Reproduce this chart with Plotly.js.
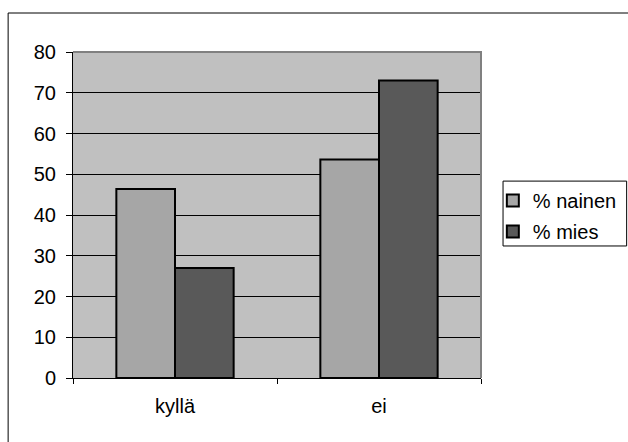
<!DOCTYPE html>
<html>
<head>
<meta charset="utf-8">
<script src="https://cdn.plot.ly/plotly-3.0.1.min.js"></script>
<style>
  html, body { margin: 0; padding: 0; background: #ffffff; }
  #chart { width: 628px; height: 442px; }
</style>
</head>
<body>
<div id="chart"></div>
<script>
// Vastaukset kategorioittain (prosentteina)
const categories = ['kyllä', 'ei'];
const naisetPct = [46.4, 53.6];
const miehetPct = [27.0, 73.0];
const seriesNames = ['% nainen', '% mies'];
const yTicks = [0, 10, 20, 30, 40, 50, 60, 70, 80];

const fontFamily = '"Liberation Sans", Arial, sans-serif';

const traces = [
  {
    type: 'bar',
    name: seriesNames[0],
    x: categories,
    y: naisetPct,
    legendgroup: 'a',
    marker: { color: '#a6a6a6', line: { color: '#000000', width: 2 } },
    hoverinfo: 'none'
  },
  {
    type: 'bar',
    name: seriesNames[1],
    x: categories,
    y: miehetPct,
    legendgroup: 'b',
    marker: { color: '#595959', line: { color: '#000000', width: 2 } },
    hoverinfo: 'none'
  }
];

const layout = {
  width: 628,
  height: 442,
  margin: { l: 73, r: 147, t: 52, b: 64, autoexpand: false },
  paper_bgcolor: '#ffffff',
  plot_bgcolor: '#c0c0c0',
  font: { family: fontFamily, size: 20, color: '#000000' },
  barmode: 'group',
  bargap: 0.425,
  bargroupgap: 0,
  showlegend: true,
  legend: {
    x: 1.029, y: 0.604, xanchor: 'left', yanchor: 'top',
    borderwidth: 0, bgcolor: 'rgba(0,0,0,0)',
    traceorder: 'grouped', tracegroupgap: 2, itemwidth: 30,
    font: { family: fontFamily, size: 20, color: '#000000' }
  },
  xaxis: {
    type: 'category',
    showgrid: false,
    showline: true, linecolor: '#000000', linewidth: 1,
    ticks: 'outside', tickson: 'boundaries', ticklen: 5, tickcolor: '#000000',
    ticklabelstandoff: 10,
    fixedrange: true
  },
  yaxis: {
    range: [0, 80],
    tickvals: yTicks,
    ticktext: yTicks.map(String),
    showgrid: true, gridcolor: '#000000', gridwidth: 1,
    zeroline: false,
    showline: true, linecolor: '#000000', linewidth: 1,
    ticks: 'outside', ticklen: 6, tickcolor: '#000000',
    ticklabelstandoff: 6,
    fixedrange: true
  },
  shapes: [
    // harmaa kehys kuvaajan alueen ympärillä (ylä- ja oikea reuna)
    { type: 'path', xref: 'paper', yref: 'paper', layer: 'above',
      path: 'M 0 1 L 1 1 L 1 0',
      line: { color: '#808080', width: 2 } },
    // kaavion ulkokehys
    { type: 'path', xref: 'paper', yref: 'paper', layer: 'above',
      path: 'M -0.159 -0.3 L -0.159 1.1196 L 1.6 1.1196',
      line: { color: '#000000', width: 1 } },
    // selitteen kehys
    { type: 'rect', xref: 'paper', yref: 'paper', layer: 'below',
      x0: 1.054, x1: 1.357, y0: 0.405, y1: 0.604,
      fillcolor: '#ffffff',
      line: { color: '#000000', width: 1 } }
  ]
};

Plotly.newPlot('chart', traces, layout, { displayModeBar: false, staticPlot: true });
</script>
</body>
</html>
